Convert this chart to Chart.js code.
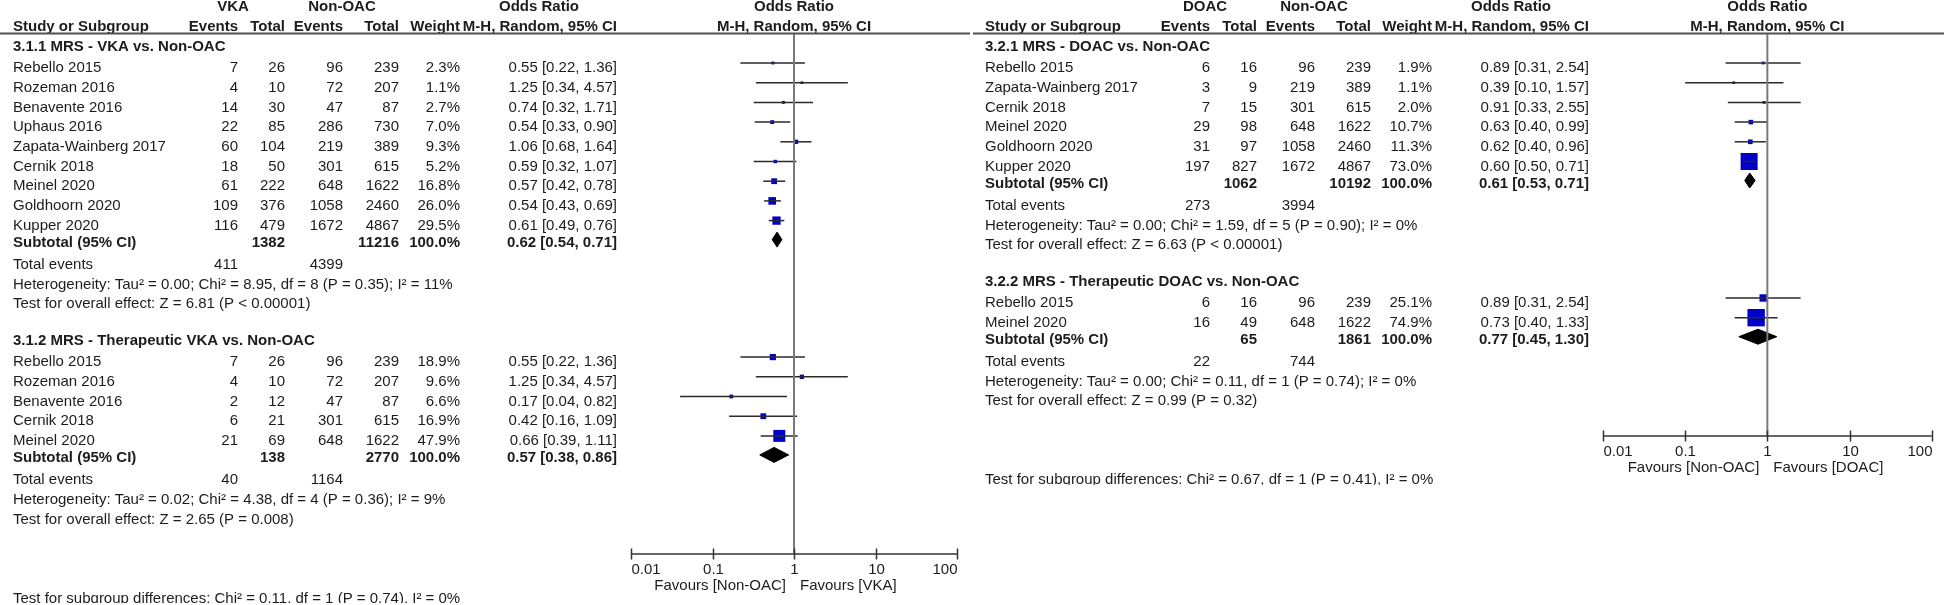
<!DOCTYPE html>
<html><head><meta charset="utf-8">
<script src="https://cdn.jsdelivr.net/npm/chart.js@4.4.1/dist/chart.umd.min.js"></script>
<style>
html,body{margin:0;padding:0;background:#fff;width:1944px;height:605px;overflow:hidden}
canvas{position:absolute;top:0}
#cL{left:0}
#cR{left:972px}
</style></head><body>
<canvas id="cL" width="972" height="605"></canvas>
<canvas id="cR" width="972" height="605"></canvas>
<script>
// ================= DATA =================
const tickValues = [0.01, 0.1, 1, 10, 100];
const tickLabels = ['0.01', '0.1', '1', '10', '100'];

// 3.1.1 MRS - VKA vs. Non-OAC
const vka1Studies = ['Rebello 2015','Rozeman 2016','Benavente 2016','Uphaus 2016','Zapata-Wainberg 2017','Cernik 2018','Meinel 2020','Goldhoorn 2020','Kupper 2020'];
const vka1ExpEvents = [7, 4, 14, 22, 60, 18, 61, 109, 116];
const vka1ExpTotal = [26, 10, 30, 85, 104, 50, 222, 376, 479];
const vka1CtlEvents = [96, 72, 47, 286, 219, 301, 648, 1058, 1672];
const vka1CtlTotal = [239, 207, 87, 730, 389, 615, 1622, 2460, 4867];
const vka1Weight = [2.3, 1.1, 2.7, 7.0, 9.3, 5.2, 16.8, 26.0, 29.5];
const vka1OR = [0.55, 1.25, 0.74, 0.54, 1.06, 0.59, 0.57, 0.54, 0.61];
const vka1Lo = [0.22, 0.34, 0.32, 0.33, 0.68, 0.32, 0.42, 0.43, 0.49];
const vka1Hi = [1.36, 4.57, 1.71, 0.90, 1.64, 1.07, 0.78, 0.69, 0.76];
const vka1Summary = {expTotal: 1382, ctlTotal: 11216, or: 0.62, lo: 0.54, hi: 0.71, expEvents: 411, ctlEvents: 4399,
  het: 'Heterogeneity: Tau\u00b2 = 0.00; Chi\u00b2 = 8.95, df = 8 (P = 0.35); I\u00b2 = 11%',
  test: 'Test for overall effect: Z = 6.81 (P < 0.00001)'};

// 3.1.2 MRS - Therapeutic VKA vs. Non-OAC
const vka2Studies = ['Rebello 2015','Rozeman 2016','Benavente 2016','Cernik 2018','Meinel 2020'];
const vka2ExpEvents = [7, 4, 2, 6, 21];
const vka2ExpTotal = [26, 10, 12, 21, 69];
const vka2CtlEvents = [96, 72, 47, 301, 648];
const vka2CtlTotal = [239, 207, 87, 615, 1622];
const vka2Weight = [18.9, 9.6, 6.6, 16.9, 47.9];
const vka2OR = [0.55, 1.25, 0.17, 0.42, 0.66];
const vka2Lo = [0.22, 0.34, 0.04, 0.16, 0.39];
const vka2Hi = [1.36, 4.57, 0.82, 1.09, 1.11];
const vka2Summary = {expTotal: 138, ctlTotal: 2770, or: 0.57, lo: 0.38, hi: 0.86, expEvents: 40, ctlEvents: 1164,
  het: 'Heterogeneity: Tau\u00b2 = 0.02; Chi\u00b2 = 4.38, df = 4 (P = 0.36); I\u00b2 = 9%',
  test: 'Test for overall effect: Z = 2.65 (P = 0.008)'};

// 3.2.1 MRS - DOAC vs. Non-OAC
const doac1Studies = ['Rebello 2015','Zapata-Wainberg 2017','Cernik 2018','Meinel 2020','Goldhoorn 2020','Kupper 2020'];
const doac1ExpEvents = [6, 3, 7, 29, 31, 197];
const doac1ExpTotal = [16, 9, 15, 98, 97, 827];
const doac1CtlEvents = [96, 219, 301, 648, 1058, 1672];
const doac1CtlTotal = [239, 389, 615, 1622, 2460, 4867];
const doac1Weight = [1.9, 1.1, 2.0, 10.7, 11.3, 73.0];
const doac1OR = [0.89, 0.39, 0.91, 0.63, 0.62, 0.60];
const doac1Lo = [0.31, 0.10, 0.33, 0.40, 0.40, 0.50];
const doac1Hi = [2.54, 1.57, 2.55, 0.99, 0.96, 0.71];
const doac1Summary = {expTotal: 1062, ctlTotal: 10192, or: 0.61, lo: 0.53, hi: 0.71, expEvents: 273, ctlEvents: 3994,
  het: 'Heterogeneity: Tau\u00b2 = 0.00; Chi\u00b2 = 1.59, df = 5 (P = 0.90); I\u00b2 = 0%',
  test: 'Test for overall effect: Z = 6.63 (P < 0.00001)'};

// 3.2.2 MRS - Therapeutic DOAC vs. Non-OAC
const doac2Studies = ['Rebello 2015','Meinel 2020'];
const doac2ExpEvents = [6, 16];
const doac2ExpTotal = [16, 49];
const doac2CtlEvents = [96, 648];
const doac2CtlTotal = [239, 1622];
const doac2Weight = [25.1, 74.9];
const doac2OR = [0.89, 0.73];
const doac2Lo = [0.31, 0.40];
const doac2Hi = [2.54, 1.33];
const doac2Summary = {expTotal: 65, ctlTotal: 1861, or: 0.77, lo: 0.45, hi: 1.30, expEvents: 22, ctlEvents: 744,
  het: 'Heterogeneity: Tau\u00b2 = 0.00; Chi\u00b2 = 0.11, df = 1 (P = 0.74); I\u00b2 = 0%',
  test: 'Test for overall effect: Z = 0.99 (P = 0.32)'};

const vkaSubgroupTest = 'Test for subgroup differences: Chi\u00b2 = 0.11, df = 1 (P = 0.74), I\u00b2 = 0%';
const doacSubgroupTest = 'Test for subgroup differences: Chi\u00b2 = 0.67, df = 1 (P = 0.41), I\u00b2 = 0%';

// ================= STYLE / LAYOUT =================
const FAM = '"Liberation Sans", Arial, sans-serif';
const FS = 15;
const TEXT = '#1c1c1c';
const SQUARE = '#0000C8';
const COLS = {name: 13, expEv: 238, expTot: 285, ctlEv: 343, ctlTot: 399, weight: 460, orText: 617, orHead: 539, grpExp: 233, grpCtl: 342};

function group(title, names, ee, et, ce, ct, w, or, lo, hi, s) {
  return {title, names, ee, et, ce, ct, w, or, lo, hi, s};
}

function layout(groups) {
  let y = 47;
  groups.forEach(g => {
    g.yHead = y;
    g.yRows = g.names.map((_, i) => y + 21 + 19.7 * i);
    g.ySub = g.yRows[g.yRows.length - 1] + 17;
    g.yTE = g.ySub + 22;
    g.yHet = g.yTE + 20;
    g.yTest = g.yHet + 19.5;
    y = g.yTest + 37;
  });
  return groups[groups.length - 1].yTest + 79;
}

const fmt2 = v => v.toFixed(2);
const orStr = (o, l, h) => fmt2(o) + ' [' + fmt2(l) + ', ' + fmt2(h) + ']';

function makeChart(canvasId, P) {
  const yDiff = layout(P.groups);
  const datasets = [];
  // line of no effect
  datasets.push({type: 'line', data: [{x: 1, y: P.top}, {x: 1, y: P.axisY}], borderColor: '#7a7a7a', borderWidth: 2, pointRadius: 0, clip: false});
  P.groups.forEach(g => {
    g.names.forEach((_, i) => {
      const ym = g.yRows[i] - 5;
      datasets.push({type: 'line', data: [{x: g.lo[i], y: ym}, {x: g.hi[i], y: ym}], borderColor: '#2a2a2a', borderWidth: 1.5, pointRadius: 0, clip: false});
    });
    datasets.push({type: 'scatter', data: g.names.map((_, i) => ({x: g.or[i], y: g.yRows[i] - 5})),
      pointStyle: 'rect', backgroundColor: SQUARE, borderWidth: 0,
      pointRadius: g.w.map(w => (2.4 + 0.2 * w) / Math.SQRT2), clip: false});
    const c = g.ySub - 3, s = g.s;
    datasets.push({type: 'line', data: [{x: s.lo, y: c}, {x: s.or, y: c - 7.5}, {x: s.hi, y: c}, {x: s.or, y: c + 7.5}, {x: s.lo, y: c}],
      borderColor: '#000', backgroundColor: '#000', borderWidth: 1, fill: 'shape', pointRadius: 0, tension: 0, clip: false});
  });

  const plugin = {
    id: 'forestText',
    afterDraw(chart) {
      const ctx = chart.ctx, xs = chart.scales.x;
      const C = COLS;
      ctx.save();
      ctx.fillStyle = TEXT;
      ctx.textBaseline = 'middle';
      const reg = FS + 'px ' + FAM, bold = 'bold ' + FS + 'px ' + FAM;
      const t = (s, x, y, align, f) => { ctx.font = f || reg; ctx.textAlign = align || 'left'; ctx.fillText(String(s), x, y); };
      const x1 = xs.getPixelForValue(1);
      // header
      t(P.expLabel, C.grpExp, 7, 'center', bold);
      t('Non-OAC', C.grpCtl, 7, 'center', bold);
      t('Odds Ratio', C.orHead, 7, 'center', bold);
      t('Odds Ratio', x1, 7, 'center', bold);
      t('Study or Subgroup', C.name, 27, 'left', bold);
      t('Events', C.expEv, 27, 'right', bold);
      t('Total', C.expTot, 27, 'right', bold);
      t('Events', C.ctlEv, 27, 'right', bold);
      t('Total', C.ctlTot, 27, 'right', bold);
      t('Weight', C.weight, 27, 'right', bold);
      t('M-H, Random, 95% CI', C.orText, 27, 'right', bold);
      t('M-H, Random, 95% CI', x1, 27, 'center', bold);
      ctx.strokeStyle = '#505050';
      ctx.lineWidth = 2;
      ctx.beginPath(); ctx.moveTo(P.lineFrom, 33.5); ctx.lineTo(P.lineTo, 33.5); ctx.stroke();
      // groups
      P.groups.forEach(g => {
        t(g.title, C.name, g.yHead, 'left', bold);
        g.names.forEach((n, i) => {
          const y = g.yRows[i];
          t(n, C.name, y);
          t(g.ee[i], C.expEv, y, 'right');
          t(g.et[i], C.expTot, y, 'right');
          t(g.ce[i], C.ctlEv, y, 'right');
          t(g.ct[i], C.ctlTot, y, 'right');
          t(g.w[i].toFixed(1) + '%', C.weight, y, 'right');
          t(orStr(g.or[i], g.lo[i], g.hi[i]), C.orText, y, 'right');
        });
        const s = g.s;
        t('Subtotal (95% CI)', C.name, g.ySub, 'left', bold);
        t(s.expTotal, C.expTot, g.ySub, 'right', bold);
        t(s.ctlTotal, C.ctlTot, g.ySub, 'right', bold);
        t('100.0%', C.weight, g.ySub, 'right', bold);
        t(orStr(s.or, s.lo, s.hi), C.orText, g.ySub, 'right', bold);
        t('Total events', C.name, g.yTE);
        t(s.expEvents, C.expEv, g.yTE, 'right');
        t(s.ctlEvents, C.ctlEv, g.yTE, 'right');
        t(s.het, C.name, g.yHet);
        t(s.test, C.name, g.yTest);
      });
      // axis
      const ay = P.axisY;
      const xa = xs.getPixelForValue(tickValues[0]), xb = xs.getPixelForValue(tickValues[tickValues.length - 1]);
      ctx.strokeStyle = '#333';
      ctx.lineWidth = 1.5;
      ctx.beginPath(); ctx.moveTo(xa, ay); ctx.lineTo(xb, ay); ctx.stroke();
      tickValues.forEach((v, i) => {
        const px = Math.round(xs.getPixelForValue(v)) + 0.5;
        ctx.beginPath(); ctx.moveTo(px, ay - 5.5); ctx.lineTo(px, ay + 5.5); ctx.stroke();
        const al = i === 0 ? 'left' : (i === tickValues.length - 1 ? 'right' : 'center');
        t(tickLabels[i], px, ay + 15.5, al);
      });
      t(P.favours[0], x1 - 8, ay + 32, 'right');
      t(P.favours[1], x1 + 6, ay + 32, 'left');
      // subgroup differences (clipped like the source)
      ctx.save();
      ctx.beginPath(); ctx.rect(0, 0, chart.width, yDiff + 4.5); ctx.clip();
      t(P.subgroupTest, C.name, yDiff);
      ctx.restore();
      ctx.restore();
    }
  };

  return new Chart(document.getElementById(canvasId), {
    type: 'scatter',
    data: {datasets},
    options: {
      responsive: false, animation: false, events: [],
      layout: {padding: P.padding},
      plugins: {legend: {display: false}, tooltip: {enabled: false}},
      scales: {
        x: {type: 'logarithmic', min: tickValues[0], max: tickValues[tickValues.length - 1], display: false},
        y: {type: 'linear', min: P.top, max: P.axisY, reverse: true, display: false}
      }
    },
    plugins: [plugin]
  });
}

makeChart('cL', {
  expLabel: 'VKA', favours: ['Favours [Non-OAC]', 'Favours [VKA]'], subgroupTest: vkaSubgroupTest,
  top: 34, axisY: 554, lineFrom: 0, lineTo: 970,
  padding: {left: 631, right: 15, top: 34, bottom: 51},
  groups: [
    group('3.1.1 MRS - VKA vs. Non-OAC', vka1Studies, vka1ExpEvents, vka1ExpTotal, vka1CtlEvents, vka1CtlTotal, vka1Weight, vka1OR, vka1Lo, vka1Hi, vka1Summary),
    group('3.1.2 MRS - Therapeutic VKA vs. Non-OAC', vka2Studies, vka2ExpEvents, vka2ExpTotal, vka2CtlEvents, vka2CtlTotal, vka2Weight, vka2OR, vka2Lo, vka2Hi, vka2Summary)
  ]
});

makeChart('cR', {
  expLabel: 'DOAC', favours: ['Favours [Non-OAC]', 'Favours [DOAC]'], subgroupTest: doacSubgroupTest,
  top: 34, axisY: 436, lineFrom: 1, lineTo: 972,
  padding: {left: 631, right: 2, top: 34, bottom: 169},
  groups: [
    group('3.2.1 MRS - DOAC vs. Non-OAC', doac1Studies, doac1ExpEvents, doac1ExpTotal, doac1CtlEvents, doac1CtlTotal, doac1Weight, doac1OR, doac1Lo, doac1Hi, doac1Summary),
    group('3.2.2 MRS - Therapeutic DOAC vs. Non-OAC', doac2Studies, doac2ExpEvents, doac2ExpTotal, doac2CtlEvents, doac2CtlTotal, doac2Weight, doac2OR, doac2Lo, doac2Hi, doac2Summary)
  ]
});
</script>
</body></html>
